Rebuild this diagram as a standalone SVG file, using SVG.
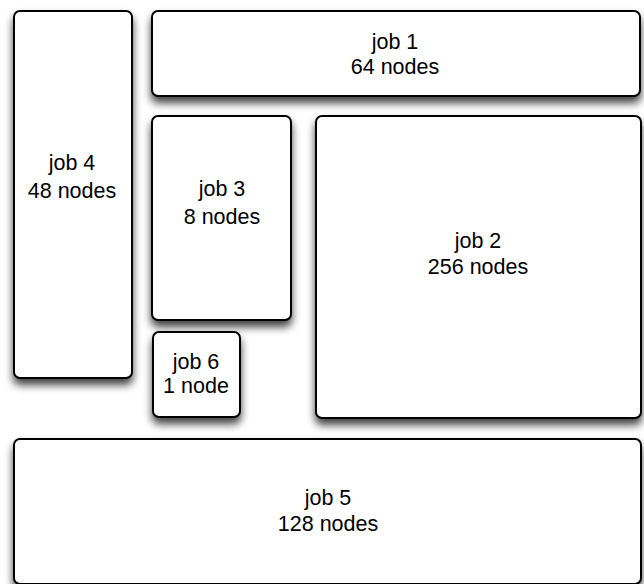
<svg xmlns="http://www.w3.org/2000/svg" width="644" height="584" viewBox="0 0 644 584">
  <defs>
    <filter id="shadow" x="-20%" y="-20%" width="140%" height="140%">
      <feGaussianBlur in="SourceAlpha" stdDeviation="4.5"/>
      <feOffset dx="0" dy="6" result="b"/>
      <feComponentTransfer><feFuncA type="linear" slope="0.75"/></feComponentTransfer>
      <feMerge><feMergeNode/><feMergeNode in="SourceGraphic"/></feMerge>
    </filter>
  </defs>
  <style>
    .box { fill: #ffffff; stroke: #000000; stroke-width: 2; filter: url(#shadow); }
    .lbl { font-family: "Liberation Sans", Arial, Helvetica, sans-serif; font-size: 21.5px; fill: #000000; text-anchor: middle; }
  </style>
  <rect width="644" height="584" fill="#ffffff"/>

  <g id="job4">
    <rect class="box" x="14" y="11" width="118" height="367" rx="6"/>
    <text class="lbl" x="72" y="170">job 4</text>
    <text class="lbl" x="72" y="198">48 nodes</text>
  </g>

  <g id="job1">
    <rect class="box" x="152" y="11" width="488" height="85" rx="6"/>
    <text class="lbl" x="395" y="49">job 1</text>
    <text class="lbl" x="395" y="74">64 nodes</text>
  </g>

  <g id="job3">
    <rect class="box" x="152" y="116" width="139" height="204" rx="6"/>
    <text class="lbl" x="222" y="196">job 3</text>
    <text class="lbl" x="222" y="224">8 nodes</text>
  </g>

  <g id="job2">
    <rect class="box" x="316" y="116" width="325" height="302" rx="6"/>
    <text class="lbl" x="478" y="248">job 2</text>
    <text class="lbl" x="478" y="274">256 nodes</text>
  </g>

  <g id="job6">
    <rect class="box" x="153" y="332" width="87" height="85" rx="6"/>
    <text class="lbl" x="196" y="369">job 6</text>
    <text class="lbl" x="196" y="393">1 node</text>
  </g>

  <g id="job5">
    <rect class="box" x="14" y="439" width="627" height="145" rx="6"/>
    <text class="lbl" x="328" y="505">job 5</text>
    <text class="lbl" x="328" y="531">128 nodes</text>
  </g>

  <g id="connectors"></g>
</svg>
